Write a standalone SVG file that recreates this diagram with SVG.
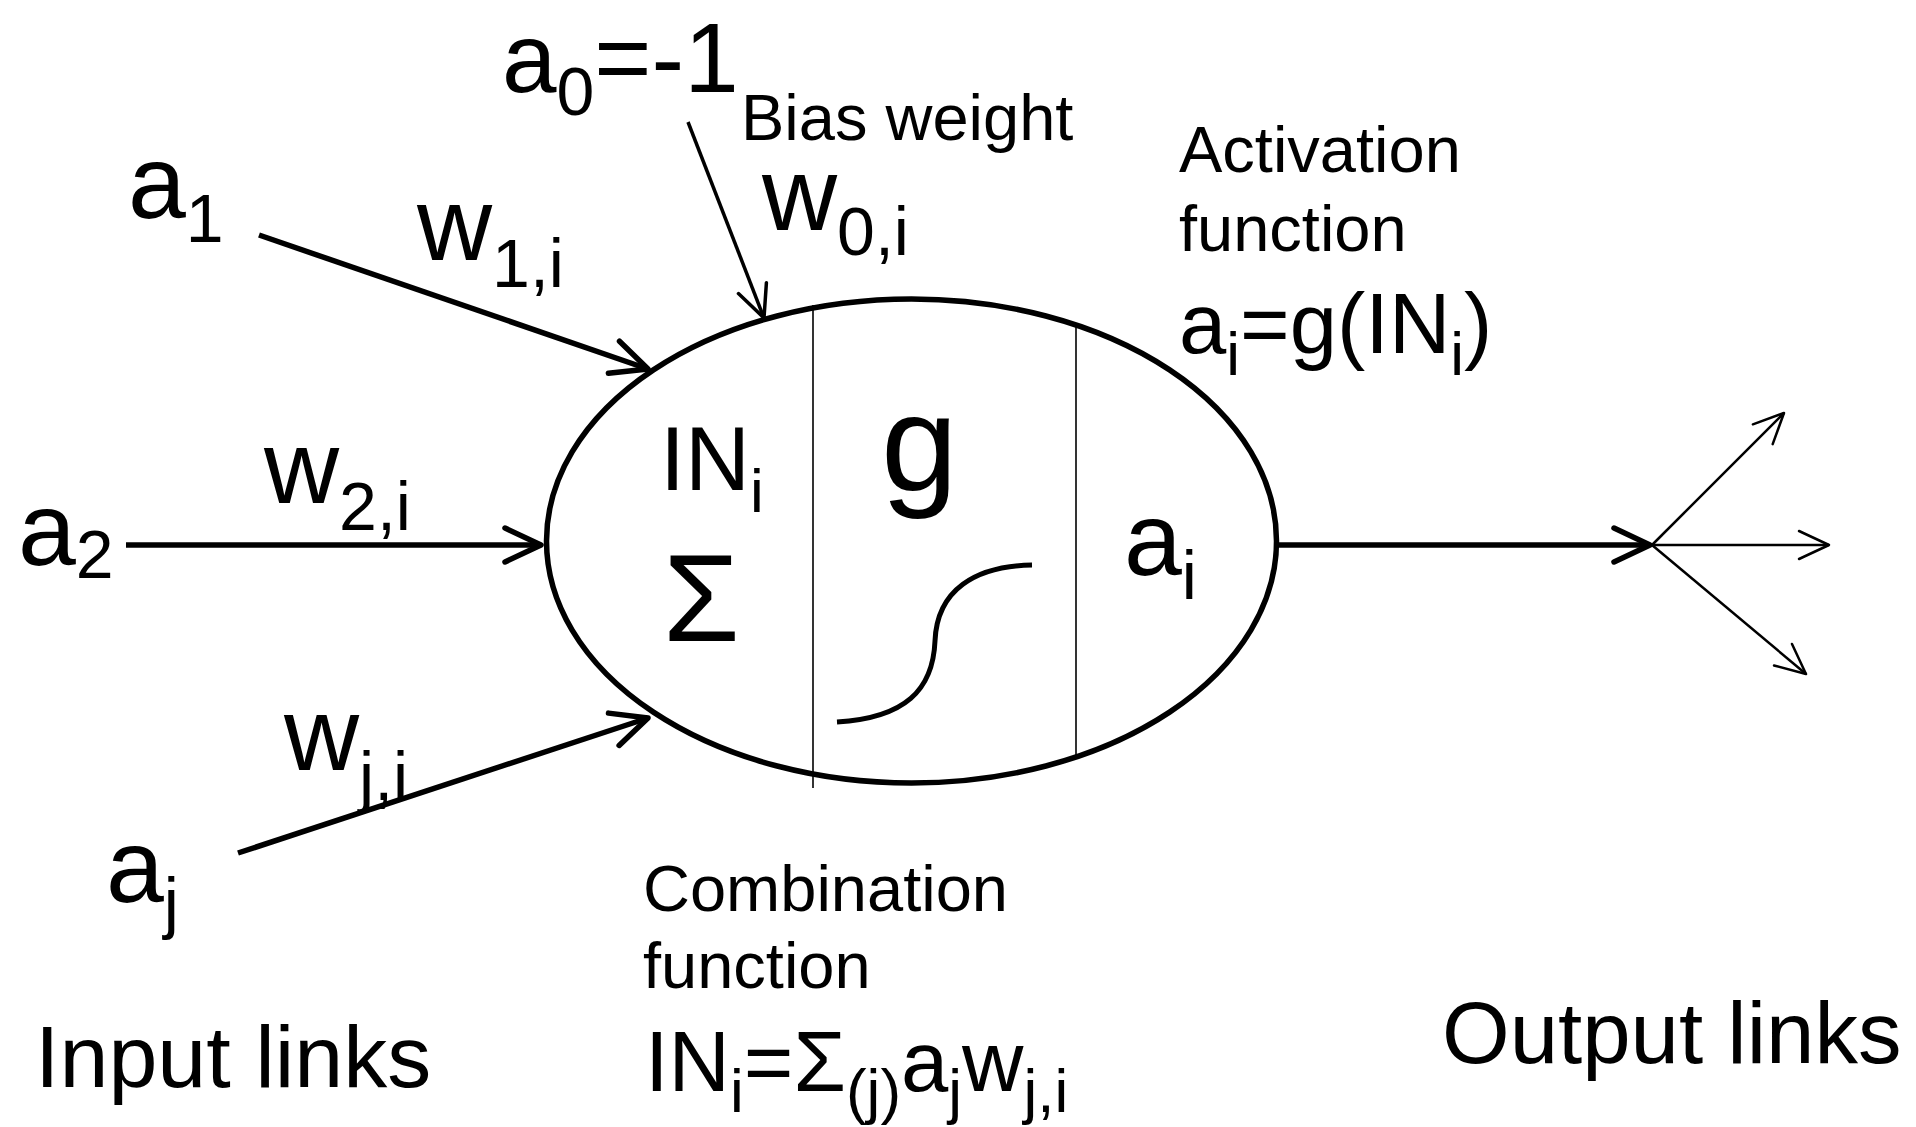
<svg xmlns="http://www.w3.org/2000/svg" width="1916" height="1127" viewBox="0 0 1916 1127">
<style>
text{font-family:"Liberation Sans",Arial,sans-serif;fill:#000}
.big{font-size:104px}
.bs{font-size:68px}
.mid{font-size:65px}
.frm{font-size:85px}
.s{font-size:62px}
.thick{stroke:#000;stroke-width:5.5;fill:none}
.med{stroke:#000;stroke-width:3.5;fill:none}
.thin{stroke:#000;stroke-width:2.5;fill:none}
.div{stroke:#000;stroke-width:1.6;fill:none}
</style>
<defs>
<marker id="ah" markerUnits="userSpaceOnUse" viewBox="-42 -24 48 48" markerWidth="48" markerHeight="48" refX="0" refY="0" orient="auto" overflow="visible">
<path d="M-36,-17 L0,0 L-36,17" fill="none" stroke="#000" stroke-width="5.5" stroke-linecap="round" stroke-linejoin="round"/>
</marker>
<marker id="ahm" markerUnits="userSpaceOnUse" viewBox="-42 -24 48 48" markerWidth="48" markerHeight="48" refX="0" refY="0" orient="auto" overflow="visible">
<path d="M-32,-15 L0,0 L-32,15" fill="none" stroke="#000" stroke-width="3.5" stroke-linecap="round" stroke-linejoin="round"/>
</marker>
<marker id="aht" markerUnits="userSpaceOnUse" viewBox="-42 -24 48 48" markerWidth="48" markerHeight="48" refX="0" refY="0" orient="auto" overflow="visible">
<path d="M-30,-14 L0,0 L-30,14" fill="none" stroke="#000" stroke-width="2.5" stroke-linecap="round" stroke-linejoin="round"/>
</marker>
</defs>
<rect width="1916" height="1127" fill="#fff"/>

<g id="connectors">
<line class="thick" x1="259" y1="235" x2="648" y2="369" marker-end="url(#ah)"/>
<line class="med" x1="688" y1="122" x2="764" y2="318" marker-end="url(#ahm)"/>
<line class="thick" x1="126" y1="545" x2="541" y2="545" marker-end="url(#ah)"/>
<line class="thick" x1="238" y1="853" x2="648" y2="718" marker-end="url(#ah)"/>
<line class="thick" x1="1277" y1="545" x2="1650" y2="545" marker-end="url(#ah)"/>
<line class="thin" x1="1652" y1="545" x2="1784" y2="413" marker-end="url(#aht)"/>
<line class="thin" x1="1652" y1="545" x2="1829" y2="545" marker-end="url(#aht)"/>
<line class="thin" x1="1652" y1="545" x2="1806" y2="674" marker-end="url(#aht)"/>
</g>

<g id="neuron">
<ellipse cx="911.5" cy="541" rx="365" ry="242" fill="none" stroke="#000" stroke-width="5.5"/>
<line class="div" x1="813" y1="305" x2="813" y2="788"/>
<line class="div" x1="1076" y1="326" x2="1076" y2="758"/>
<text x="660" y="490" style="font-size:90px">IN<tspan class="s" dy="22">i</tspan></text>
<text x="663" y="641" style="font-size:124px">Σ</text>
<text x="881" y="490" style="font-size:138px">g</text>
<path d="M837,722 C905,718 933,690 935,641 C937,590 975,566 1032,565" fill="none" stroke="#000" stroke-width="5"/>
<text class="big" x="1124" y="575">a<tspan class="bs" dy="24">i</tspan></text>
</g>

<g id="input-a0">
<text x="502" y="92" style="font-size:98px">a<tspan class="bs" dy="23">0</tspan><tspan dy="-23">=-1</tspan></text>
<text class="mid" x="741" y="140">Bias weight</text>
<text class="big" x="762" y="230">w<tspan class="bs" dy="25">0,i</tspan></text>
</g>
<g id="input-a1">
<text class="big" x="128" y="218">a<tspan class="bs" dy="24">1</tspan></text>
<text class="big" x="417" y="260">w<tspan class="bs" dy="27">1,i</tspan></text>
</g>
<g id="input-a2">
<text class="big" x="18" y="565">a<tspan class="bs" dy="13">2</tspan></text>
<text class="big" x="264" y="503">w<tspan class="bs" dy="27">2,i</tspan></text>
</g>
<g id="input-aj">
<text class="big" x="106" y="902">a<tspan class="bs" dy="24">j</tspan></text>
<text class="big" x="284" y="770">w<tspan class="bs" dy="30">j,i</tspan></text>
</g>

<g id="activation-label">
<text class="mid" x="1179" y="172">Activation</text>
<text class="mid" x="1179" y="251">function</text>
<text class="frm" x="1179" y="353">a<tspan class="s" dy="22">i</tspan><tspan dy="-22">=g(IN</tspan><tspan class="s" dy="22">i</tspan><tspan dy="-22">)</tspan></text>
</g>

<g id="combination-label">
<text class="mid" x="643" y="911">Combination</text>
<text class="mid" x="643" y="988">function</text>
<text class="frm" x="645" y="1091">IN<tspan class="s" dy="21">i</tspan><tspan dy="-21">=Σ</tspan><tspan class="s" dy="21">(j)</tspan><tspan dy="-21">a</tspan><tspan class="s" dy="21">j</tspan><tspan dy="-21">w</tspan><tspan class="s" dy="21">j,i</tspan></text>
</g>

<text x="35" y="1087" style="font-size:88px">Input links</text>
<text x="1442" y="1063" style="font-size:87px">Output links</text>
</svg>
